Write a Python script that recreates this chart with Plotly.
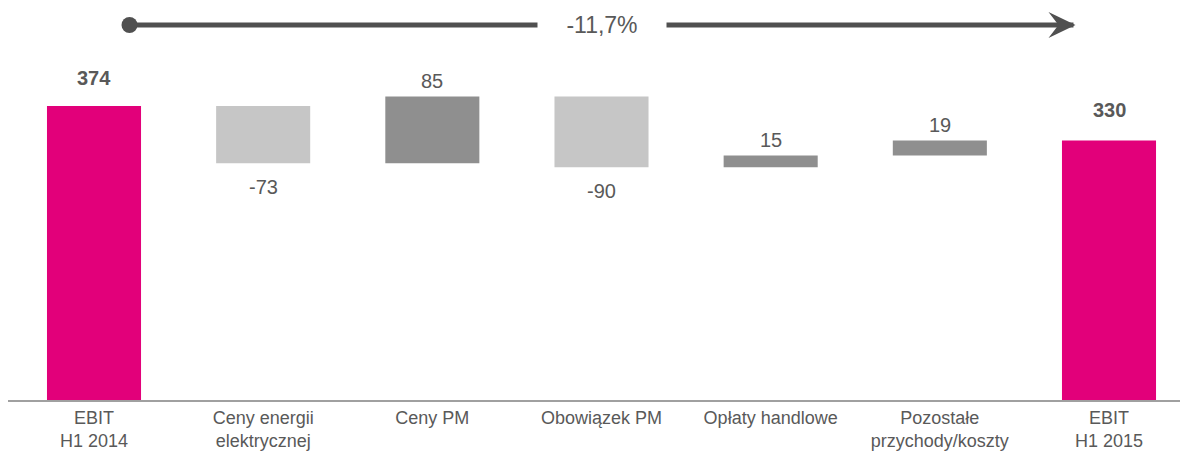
import plotly.graph_objects as go

# EBIT bridge H1 2014 -> H1 2015 (mln zł)
categories = ["EBIT<br>H1 2014", "Ceny energii<br>elektrycznej", "Ceny PM", "Obowiązek PM",
              "Opłaty handlowe", "Pozostałe<br>przychody/koszty", "EBIT<br>H1 2015"]
values = [374, -73, 85, -90, 15, 19, 330]
measures = ["absolute", "relative", "relative", "relative", "relative", "relative", "total"]
change_label = "-11,7%"

MAGENTA = "#E2007A"
LIGHT = "#C6C6C6"
DARK = "#8F8F8F"
TEXT = "#595959"
ARROW = "#505050"

xs = list(range(len(categories)))

fig = go.Figure()
fig.add_trace(go.Waterfall(
    x=xs, y=values, measure=measures, width=0.556,
    totals=dict(marker=dict(color=MAGENTA)),
    increasing=dict(marker=dict(color=DARK)),
    decreasing=dict(marker=dict(color=LIGHT)),
    connector=dict(visible=False),
    hoverinfo="skip", showlegend=False,
))

# value labels placed from the running total
annotations = []
running = 0
for i, (v, m) in enumerate(zip(values, measures)):
    if m == "absolute":
        running = v
        annotations.append(dict(x=i, y=v, text=f"<b>{v}</b>", yshift=28,
                                font=dict(size=20, color=TEXT)))
    elif m == "total":
        annotations.append(dict(x=i, y=running, text=f"<b>{running}</b>", yshift=31,
                                font=dict(size=20, color=TEXT)))
    else:
        start, end = running, running + v
        running = end
        if v >= 0:
            annotations.append(dict(x=i, y=end, text=f"{v}", yshift=16,
                                    font=dict(size=20, color=TEXT)))
        else:
            annotations.append(dict(x=i, y=end, text=f"{v}", yshift=-24,
                                    font=dict(size=20, color=TEXT)))
for a in annotations:
    a.update(xref="x", yref="y", showarrow=False, yanchor="middle", xanchor="center")

# overall change arrow between the two totals
arrow_y = 0.9375
x_start, x_end = 0.21, 5.79
annotations.append(dict(
    x=(xs[0] + xs[-1]) / 2, y=arrow_y, xref="x", yref="paper",
    text=change_label, showarrow=False, bgcolor="white", width=126, height=32,
    font=dict(size=23, color=TEXT), xanchor="center", yanchor="middle",
))

shapes = [
    # shaft
    dict(type="line", xref="x", yref="paper", x0=x_start, x1=x_end, y0=arrow_y, y1=arrow_y,
         line=dict(color=ARROW, width=5), layer="below"),
    # notched arrow head
    dict(type="path", xref="x", yref="paper",
         xsizemode="pixel", ysizemode="pixel", xanchor=x_end, yanchor=arrow_y,
         path="M2,0 L-25,13 L-15,0 L-25,-13 Z",
         fillcolor=ARROW, line=dict(width=0)),
    # start dot
    dict(type="circle", xref="x", yref="paper",
         xsizemode="pixel", ysizemode="pixel", xanchor=x_start, yanchor=arrow_y,
         x0=-8, x1=8, y0=-8, y1=8, fillcolor=ARROW, line=dict(width=0)),
]

fig.update_layout(
    width=1180, height=454,
    margin=dict(l=8, r=0, t=0, b=54),
    paper_bgcolor="white", plot_bgcolor="white",
    font=dict(family="Liberation Sans, Arial, sans-serif", color=TEXT),
    annotations=annotations,
    shapes=shapes,
    xaxis=dict(range=[-0.5084, 6.4197], tickvals=xs, ticktext=categories,
               showgrid=False, zeroline=False, showline=True, linecolor="#A0A0A0",
               linewidth=2, ticks="", tickfont=dict(size=18, color=TEXT)),
    yaxis=dict(range=[0, 508.8], visible=False, showgrid=False, zeroline=False),
)

fig.write_html("out.html")
